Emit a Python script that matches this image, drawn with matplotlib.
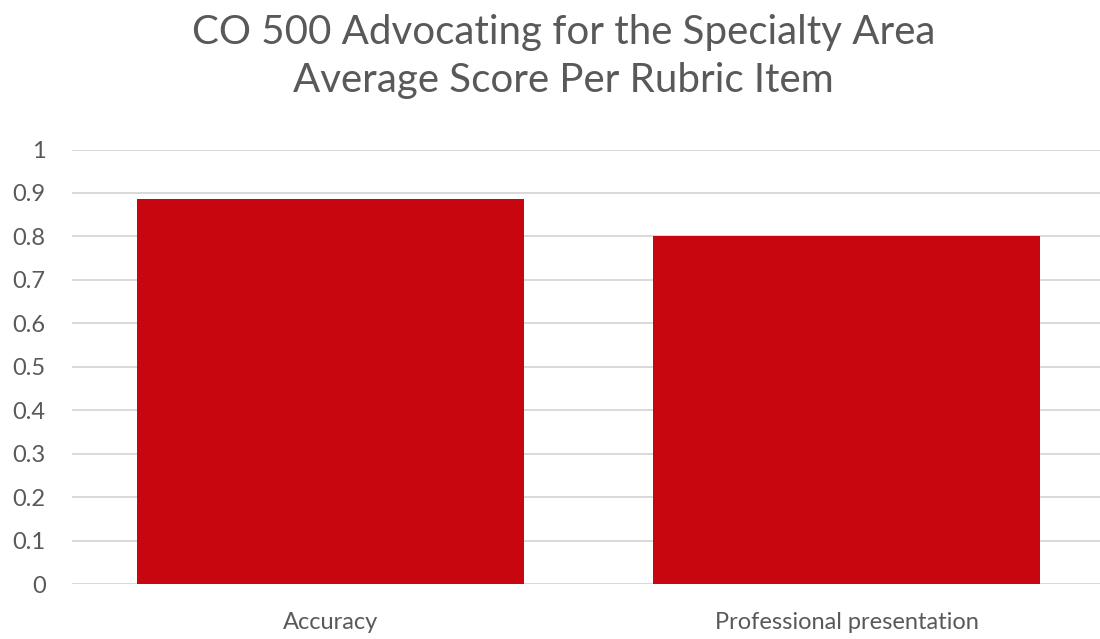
import matplotlib.pyplot as plt

categories = ["Accuracy", "Professional presentation"]
scores = [0.885, 0.80]
yticks = [0, 0.1, 0.2, 0.3, 0.4, 0.5, 0.6, 0.7, 0.8, 0.9, 1]
ytick_labels = ["0", "0.1", "0.2", "0.3", "0.4", "0.5", "0.6", "0.7", "0.8", "0.9", "1"]

plt.rcParams['font.family'] = ['Lato', 'DejaVu Sans']
grey = "#595959"

fig = plt.figure(figsize=(11, 6.39), dpi=100)
ax = fig.add_axes([0.0655, 0.086, 0.939, 0.68])

ax.bar(range(len(categories)), scores, width=0.75, color="#C8060F", zorder=2)
ax.set_xlim(-0.5, len(categories) - 0.5)
ax.set_ylim(0, 1)
ax.set_yticks(yticks)
ax.set_yticklabels(ytick_labels)
ax.set_xticks(range(len(categories)))
ax.set_xticklabels(categories)
ax.yaxis.grid(True, color="#D9D9D9", linewidth=1.4, zorder=0)
ax.set_axisbelow(True)
for s in ax.spines.values():
    s.set_visible(False)
ax.tick_params(axis="both", length=0, labelsize=17, colors=grey)
ax.tick_params(axis="y", pad=19)
ax.tick_params(axis="x", pad=20)
ax.axhline(0, color="#D9D9D9", linewidth=1.4, zorder=1)

fig.text(0.512, 0.912, "CO 500 Advocating for the Specialty Area\nAverage Score Per Rubric Item",
         ha="center", va="center", fontsize=29, color=grey, linespacing=1.38)

fig.savefig("out.png", dpi=100)
